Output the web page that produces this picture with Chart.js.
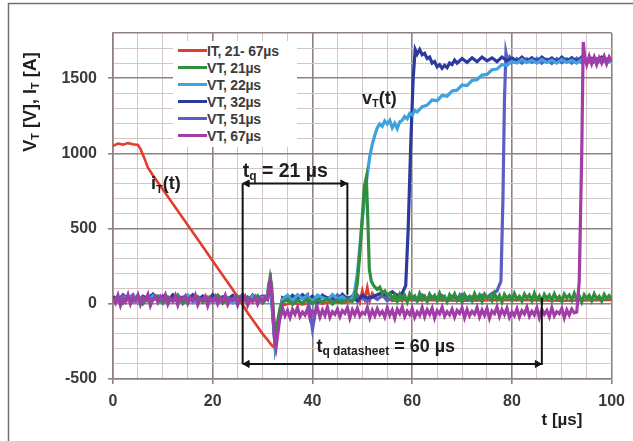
<!DOCTYPE html>
<html>
<head>
<meta charset="utf-8">
<script src="https://cdn.jsdelivr.net/npm/chart.js@4/dist/chart.umd.min.js"></script>
<style>
  html, body { margin: 0; padding: 0; background: #fff; }
  #wrap { position: relative; width: 633px; height: 441px; overflow: hidden; }
  #legend { position: absolute; left: 173px; top: 41px; width: 124px; background: #fff; padding: 1px 0 3px 0; }
  .row { display: flex; align-items: center; height: 17px; }
  .sw { width: 29px; height: 3px; margin-left: 5px; }
  .tx { font: bold 14px "Liberation Sans", Arial, sans-serif; color: #3c3c3c; letter-spacing: -0.2px; white-space: nowrap; }
</style>
</head>
<body>
<div id="wrap">
  <canvas id="c" width="633" height="441"></canvas>
  <div id="legend"></div>
</div>
<script>
// ---------- data (t in µs, value in V or A) ----------
const seriesNames = ['IT, 21- 67µs', 'VT, 21µs', 'VT, 22µs', 'VT, 32µs', 'VT, 51µs', 'VT, 67µs'];
const seriesColors = ['#e33b2e', '#2f8f3c', '#3ea3dc', '#2c3a9c', '#5c5ec4', '#a23ca6'];

const it = [[0,1050],[1,1065],[2,1058],[3,1068],[4,1060],[5,1055],[5.5,1030],[6,990],[6.5,950],[7,905],[8,855],[10,760],[12,665],[14,570],[16,475],[18,380],[20,285],[22,190],[24,95],[25.5,20],[27,-60],[28.5,-130],[30,-200],[31,-240],[31.5,-262],[32,-282],[32.5,-290],[33,-180],[33.5,-60],[34,-10],[36,5],[38,-5],[40,10],[42,0],[44,15],[46,5],[48,20],[49,60],[49.5,10],[50,90],[50.5,30],[51,110],[51.5,20],[52,70],[53,30],[54,50],[56,20],[60,25],[70,20],[80,25],[90,20],[100,25]];

const vt21 = [[0,20],[1,50],[2,5],[3,45],[4,15],[5,55],[6,0],[7,40],[8,25],[9,52],[10,8],[11,44],[12,18],[13,58],[14,2],[15,38],[16,28],[17,48],[18,10],[19,42],[20,22],[21,56],[22,4],[23,36],[24,26],[25,50],[26,12],[27,46],[28,20],[29,54],[30,6],[31,40],
  [31.2,110],[31.5,175],[31.8,120],[32.2,-80],[32.6,-220],[33,-120],[33.5,-30],
  [34,10],[35,30],[36,-5],[37,25],[38,5],[39,35],[40,0],[41,28],[42,12],[43,32],[44,-2],[45,26],[46,8],[47,30],[48,15],
  [48.5,40],[49,140],[49.5,330],[50,580],[50.4,780],[50.8,840],[51.1,560],[51.4,230],[51.8,150],[52.3,120],[53,95],[53.5,110],[54,70],[54.5,85],[55,55],
  [55.5,70],[56,30],[56.5,58],[57,18],[57.5,62],[58,25],[58.5,55],[59,12],[59.5,66],[60,35],[60.5,52],[61,20],[61.5,68],[62,28],[62.5,50],[63,15],[63.5,64],[64,38],[64.5,56],[65,22],[65.5,70],[66,30],[66.5,48],[67,14],[67.5,60],[68,34],[68.5,66],[69,24],[69.5,54],[70,10],[70.5,62],[71,36],[71.5,50],[72,20],[72.5,68],[73,32],[73.5,58],[74,16],[74.5,64],[75,40],[75.5,52],[76,22],[76.5,70],[77,28],[77.5,56],[78,12],[78.5,62],[79,36],[79.5,54],[80,24],[80.5,68],[81,30],[81.5,50],[82,18],[82.5,64],[83,38],[83.5,58],[84,20],[84.5,70],[85,26],[85.5,52],[86,14],[86.5,62],[87,34],[87.5,56],[88,22],[88.5,66],[89,30],[89.5,48],[90,16],[90.5,64],[91,38],[91.5,58],[92,24],[92.5,70],[93,28],[93.5,52],[94,12],[94.5,60],[95,36],[95.5,56],[96,20],[96.5,66],[97,32],[97.5,50],[98,18],[98.5,62],[99,34],[99.5,54],[100,30]];

const vt22 = [[0,30],[1,10],[2,48],[3,22],[4,55],[5,5],[6,40],[7,18],[8,52],[9,28],[10,0],[11,45],[12,15],[13,50],[14,25],[15,58],[16,8],[17,38],[18,20],[19,46],[20,12],[21,54],[22,26],[23,42],[24,6],[25,48],[26,30],[27,16],[28,52],[29,24],[30,44],[31,30],
  [31.2,130],[31.6,165],[32,-40],[32.5,-270],[33,-150],[33.5,-40],
  [34,30],[35,55],[36,20],[37,60],[38,35],[39,50],[40,15],[41,58],[42,40],[43,25],[44,62],[45,30],[46,48],[47,22],
  [48,40],[48.5,90],[49,200],[49.5,380],[50,560],[50.5,720],[51,860],[51.5,980],[52,1060],[52.5,1120],[53,1170],[53.5,1195],[54,1180],[54.5,1215],[55,1195],[55.5,1220],[56,1170],[56.5,1200],[57,1165],[57.5,1210],[58,1220],[58.5,1245],[59,1230],[59.5,1265],[60,1255],[60.5,1285],[61,1275],[62,1310],[63,1320],[64,1355],[65,1350],[66,1385],[67,1380],[68,1415],[69,1420],[70,1455],[71,1450],[72,1485],[73,1490],[74,1520],[75,1525],[76,1555],[77,1560],[78,1590],[79,1585],[80,1610],[81,1600],[82,1625],[83,1605],[84,1620],[85,1600],[86,1625],[87,1605],[88,1620],[89,1600],[90,1625],[91,1605],[92,1620],[93,1600],[94,1625],[95,1605],[96,1620],[97,1600],[98,1625],[99,1605],[100,1615]];

const vt32 = [[0,45],[1,15],[2,55],[3,25],[4,60],[5,10],[6,50],[7,30],[8,62],[9,20],[10,48],[11,5],[12,58],[13,35],[14,42],[15,12],[16,56],[17,28],[18,50],[19,18],[20,60],[21,8],[22,46],[23,32],[24,54],[25,22],[26,40],[27,14],[28,58],[29,26],[30,50],[31,35],
  [31.2,100],[31.6,140],[32,-60],[32.5,-280],[33,-160],[33.5,-50],
  [34,40],[35,20],[36,55],[37,30],[38,60],[39,25],[40,50],[41,15],[42,58],[43,35],[44,45],[45,20],[46,62],[47,30],[48,52],[49,18],[50,56],[51,38],[52,44],[53,60],[54,75],[55,50],[56,80],[57,55],[58,70],
  [58.7,120],[59.2,500],[59.7,1050],[60.2,1500],[60.6,1690],[61,1660],[61.5,1690],[62,1655],[62.5,1665],[63,1630],[63.5,1640],[64,1600],[64.5,1610],[65,1575],[65.5,1590],[66,1565],[66.5,1585],[67,1570],[67.5,1600],[68,1590],[68.5,1620],[69,1600],[70,1630],[71,1605],[72,1635],[73,1610],[74,1640],[75,1615],[76,1635],[77,1610],[78,1640],[79,1615],[80,1635],[81,1610],[82,1640],[83,1612],[84,1636],[85,1608],[86,1640],[87,1615],[88,1634],[89,1606],[90,1640],[91,1612],[92,1636],[93,1610],[94,1640],[95,1615],[96,1632],[97,1608],[98,1640],[99,1614],[100,1630]];

const vt51 = [[0,50],[1,20],[2,60],[3,30],[4,55],[5,12],[6,48],[7,38],[8,62],[9,18],[10,52],[11,25],[12,58],[13,8],[14,45],[15,35],[16,60],[17,22],[18,50],[19,15],[20,56],[21,32],[22,44],[23,10],[24,54],[25,28],[26,62],[27,20],[28,46],[29,36],[30,52],[31,40],
  [31.2,90],[31.6,120],[32,-30],[32.5,-260],[33,-170],[33.5,-60],
  [34,30],[35,55],[36,20],[37,48],[38,35],[39,60],[40,-170],[41,25],[42,52],[43,40],[44,18],[45,58],[46,30],[47,45],[48,22],[49,55],[50,38],[51,15],[52,50],[53,28],[54,60],[55,20],[56,44],[57,35],[58,56],[59,25],[60,48],[61,18],[62,58],[63,32],[64,42],[65,26],[66,54],[67,20],[68,50],[69,36],[70,62],[71,24],[72,46],[73,30],[74,58],[75,40],[76,70],[77,85],
  [77.8,150],[78.2,700],[78.5,1350],[78.8,1670],[79.1,1620],[79.5,1640],[80,1605],[81,1630],[82,1600],[83,1628],[84,1605],[85,1632],[86,1600],[87,1625],[88,1598],[89,1630],[90,1602],[91,1628],[92,1600],[93,1632],[94,1604],[95,1626],[96,1600],[97,1630],[98,1605],[99,1628],[100,1610]];

const vt67 = [[0,35],[0.5,5],[1,55],[1.5,-10],[2,40],[2.5,15],[3,60],[3.5,0],[4,45],[4.5,20],[5,58],[5.5,-5],[6,38],[6.5,25],[7,62],[7.5,-12],[8,30],[8.5,50],[9,10],[9.5,48],[10,22],[10.5,60],[11,-2],[11.5,36],[12,18],[12.5,55],[13,-8],[13.5,42],[14,28],[14.5,52],[15,2],[15.5,40],[16,20],[16.5,58],[17,-6],[17.5,34],[18,26],[18.5,50],[19,-12],[19.5,38],[20,14],[20.5,46],[21,0],[21.5,40],[22,18],[22.5,56],[23,-4],[23.5,32],[24,24],[24.5,50],[25,-8],[25.5,38],[26,16],[26.5,46],[27,-10],[27.5,30],[28,12],[28.5,44],[29,-2],[29.5,36],[30,18],[30.5,48],[31,30],
  [31.3,110],[31.6,150],[32,10],[32.4,-240],[32.7,-290],[33,-210],[33.4,-110],[33.8,-60],
  [34,-30],[34.5,-80],[35,-45],[35.5,-92],[36,-38],[36.5,-70],[37,-25],[37.5,-85],[38,-55],[38.5,-75],
  [39,-32],[39.5,-95],[40,-48],[40.5,-66],[41,-28],[41.5,-88],[42,-42],[42.5,-78],[43,-22],[43.5,-90],
  [44,-52],[44.5,-70],[45,-35],[45.5,-86],[46,-46],[46.5,-64],[47,-26],[47.5,-94],[48,-40],[48.5,-74],
  [49,-30],[49.5,-82],[50,-56],[50.5,-68],[51,-24],[51.5,-92],[52,-44],[52.5,-80],[53,-34],[53.5,-72],
  [54,-50],[54.5,-88],[55,-28],[55.5,-76],[56,-42],[56.5,-96],[57,-36],[57.5,-66],[58,-22],[58.5,-84],
  [59,-48],[59.5,-72],[60,-32],[60.5,-90],[61,-54],[61.5,-78],[62,-26],[62.5,-86],[63,-40],[63.5,-70],
  [64,-30],[64.5,-94],[65,-46],[65.5,-68],[66,-24],[66.5,-82],[67,-52],[67.5,-74],[68,-36],[68.5,-88],
  [69,-44],[69.5,-64],[70,-28],[70.5,-92],[71,-38],[71.5,-80],[72,-50],[72.5,-70],[73,-26],[73.5,-86],
  [74,-42],[74.5,-76],[75,-32],[75.5,-96],[76,-48],[76.5,-66],[77,-22],[77.5,-84],[78,-40],[78.5,-72],
  [79,-30],[79.5,-90],[80,-54],[80.5,-78],[81,-34],[81.5,-88],[82,-46],[82.5,-68],[83,-24],[83.5,-82],
  [84,-50],[84.5,-74],[85,-28],[85.5,-92],[86,-38],[86.5,-70],[87,-44],[87.5,-86],[88,-26],[88.5,-80],
  [89,-52],[89.5,-66],[90,-32],[90.5,-94],[91,-42],[91.5,-76],[92,-36],[92.5,-60],[93,-55],
  [93.5,150],[94,1000],[94.3,1740],[94.6,1640],[95,1590],[95.5,1645],[96,1595],[96.5,1640],[97,1590],[97.5,1635],[98,1600],[98.5,1645],[99,1595],[99.5,1640],[100,1610]];

// drawing order in the reference (lower = on top)
const seriesOrder = [5, 1, 2, 3, 4, 0];

// annotation geometry (data units)
const bracketLeft = [[26, 800], [26, -400]];
const bracketTop = [[26, 800], [47, 800], [47, 60]];
const bracketBottom = [[26, -400], [86, -400], [86, 40]];
const arrowsLeft = [[26.9, 800], [26.9, -400]];
const arrowsRight = [[46.1, 800], [85.1, -400]];

// axis ticks
const xTicksMajor = [0, 20, 40, 60, 80, 100];
const yTicksMajor = [-500, 0, 500, 1000, 1500];

// ---------- chart ----------
const toXY = a => a.map(p => ({x: p[0], y: p[1]}));
const seriesData = [it, vt21, vt22, vt32, vt51, vt67];

const datasets = seriesData.map((d, i) => ({
  label: seriesNames[i],
  data: toXY(d),
  borderColor: seriesColors[i],
  backgroundColor: seriesColors[i],
  borderWidth: i === 0 ? 2.6 : 3.2,
  showLine: true, pointRadius: 0, tension: 0,
  order: seriesOrder[i],
  inLegend: true
}));
const blk = '#141414';
[bracketLeft, bracketTop, bracketBottom].forEach(b => datasets.push({
  label: '', data: toXY(b), borderColor: blk, borderWidth: 2,
  showLine: true, pointRadius: 0, order: -1, inLegend: false
}));
datasets.push({ label: '', data: toXY(arrowsLeft), pointStyle: 'triangle', rotation: -90, pointRadius: 4,
  backgroundColor: blk, borderColor: blk, borderWidth: 1, showLine: false, order: -2, inLegend: false });
datasets.push({ label: '', data: toXY(arrowsRight), pointStyle: 'triangle', rotation: 90, pointRadius: 4,
  backgroundColor: blk, borderColor: blk, borderWidth: 1, showLine: false, order: -2, inLegend: false });

const MAJOR = '#8f8181', MINOR = '#d2c6c6';
const tickFont = {family: '"Liberation Sans", Arial, sans-serif', size: 16, weight: 'bold'};

function rich(ctx, parts, x, y, align) {
  let w = 0;
  parts.forEach(p => { ctx.font = 'bold ' + p.s + 'px "Liberation Sans", Arial, sans-serif'; p.w = ctx.measureText(p.t).width; w += p.w; });
  let cx = align === 'center' ? x - w / 2 : x;
  ctx.textAlign = 'left'; ctx.textBaseline = 'middle';
  parts.forEach(p => { ctx.font = 'bold ' + p.s + 'px "Liberation Sans", Arial, sans-serif'; ctx.fillText(p.t, cx, y + (p.dy || 0)); cx += p.w; });
}

const notes = [
  {x: 10.6, y: 793, align: 'center', parts: [{t: 'i', s: 18}, {t: 'T', s: 11, dy: 5}, {t: '(t)', s: 18}]},
  {x: 53.4, y: 1360, align: 'center', parts: [{t: 'v', s: 18}, {t: 'T', s: 11, dy: 5}, {t: '(t)', s: 18}]},
  {x: 26, y: 880, align: 'left', parts: [{t: 't', s: 19.5}, {t: 'q', s: 12, dy: 5}, {t: ' = 21 µs', s: 19.5}]},
  {x: 40.8, y: -287, align: 'left', parts: [{t: 't', s: 18}, {t: 'q datasheet', s: 12, dy: 5}, {t: ' = 60 µs', s: 18}]}
];

const decor = {
  id: 'decor',
  beforeDraw(chart) {
    const ctx = chart.ctx;
    ctx.save();
    ctx.fillStyle = '#fff'; ctx.fillRect(0, 0, chart.width, chart.height);
    ctx.strokeStyle = '#707070'; ctx.lineWidth = 1.5;
    ctx.strokeRect(8.5, 3.5, 1000, 1000);
    ctx.restore();
  },
  afterDatasetsDraw(chart) {
    const ctx = chart.ctx, xs = chart.scales.x, ys = chart.scales.y;
    ctx.save();
    ctx.fillStyle = '#1e1e1e';
    notes.forEach(n => rich(ctx, n.parts, xs.getPixelForValue(n.x), ys.getPixelForValue(n.y), n.align));
    ctx.restore();
  },
  afterDraw(chart) {
    const ctx = chart.ctx;
    ctx.save();
    ctx.fillStyle = '#1e1e1e';
    ctx.translate(31, 102); ctx.rotate(-Math.PI / 2);
    rich(ctx, [{t: 'V', s: 18}, {t: 'T', s: 11, dy: 5}, {t: ' [V], I', s: 18}, {t: 'T', s: 11, dy: 5}, {t: ' [A]', s: 18}], 0, 0, 'center');
    ctx.restore();
    ctx.save();
    ctx.fillStyle = '#1e1e1e';
    rich(ctx, [{t: 't [µs]', s: 17}], 562, 420, 'center');
    ctx.restore();
  }
};

const chart = new Chart(document.getElementById('c'), {
  type: 'scatter',
  data: { datasets },
  options: {
    responsive: false, animation: false, devicePixelRatio: 1,
    layout: { padding: { top: 33, right: 20, left: 0, bottom: 0 } },
    plugins: { legend: { display: false }, tooltip: { enabled: false } },
    scales: {
      x: {
        type: 'linear', min: 0, max: 100,
        afterFit: s => { s.height = 62; },
        ticks: { stepSize: 5, autoSkip: false, maxRotation: 0, padding: 8, color: '#3a3a3a', font: tickFont,
          callback: v => xTicksMajor.includes(v) ? String(v) : '' },
        grid: { tickLength: 5,
          color: c => xTicksMajor.includes(c.tick.value) ? MAJOR : MINOR,
          lineWidth: c => xTicksMajor.includes(c.tick.value) ? 1.6 : 1,
          tickColor: c => xTicksMajor.includes(c.tick.value) ? MAJOR : 'rgba(0,0,0,0)' },
        border: { color: MAJOR, width: 1.6 }
      },
      y: {
        type: 'linear', min: -500, max: 1800,
        afterFit: s => { s.width = 113; },
        ticks: { stepSize: 100, autoSkip: false, padding: 11, color: '#3a3a3a', font: tickFont,
          callback: v => yTicksMajor.includes(v) ? String(v) : '' },
        grid: { tickLength: 5,
          color: c => (yTicksMajor.includes(c.tick.value) || c.tick.value === 1800) ? MAJOR : MINOR,
          lineWidth: c => (yTicksMajor.includes(c.tick.value) || c.tick.value === 1800) ? 1.6 : 1,
          tickColor: c => yTicksMajor.includes(c.tick.value) ? MAJOR : 'rgba(0,0,0,0)' },
        border: { color: MAJOR, width: 1.6 }
      }
    }
  },
  plugins: [decor]
});

// HTML legend built from the chart's datasets
const lg = document.getElementById('legend');
chart.data.datasets.forEach(ds => {
  if (!ds.inLegend) return;
  const row = document.createElement('div'); row.className = 'row';
  const sw = document.createElement('span'); sw.className = 'sw'; sw.style.background = ds.borderColor;
  const tx = document.createElement('span'); tx.className = 'tx'; tx.textContent = ds.label;
  row.appendChild(sw); row.appendChild(tx); lg.appendChild(row);
});
</script>
</body>
</html>
